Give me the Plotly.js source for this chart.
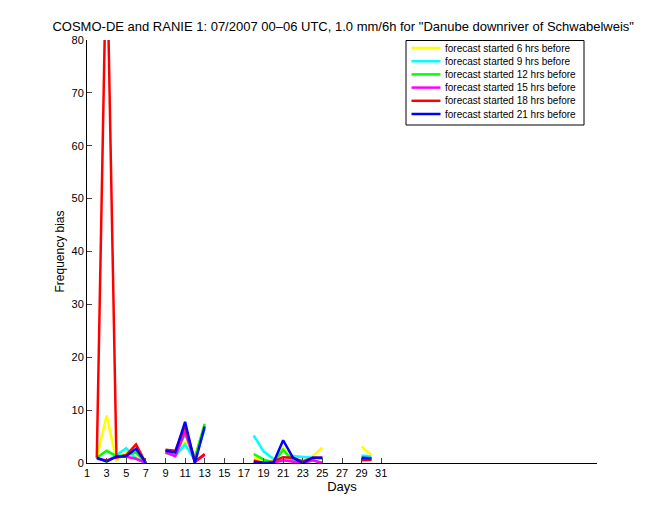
<!DOCTYPE html>
<html>
<head>
<meta charset="utf-8">
<script src="https://cdn.plot.ly/plotly-3.0.1.min.js"></script>
<style>html,body{margin:0;padding:0;background:#fff;}#chart{width:660px;height:520px;}</style>
</head>
<body>
<div id="chart"></div>
<script>
var days = [1,2,3,4,5,6,7,8,9,10,11,12,13,14,15,16,17,18,19,20,21,22,23,24,25,26,27,28,29,30,31];
var xTicks = [1,3,5,7,9,11,13,15,17,19,21,23,25,27,29,31];
var yTicks = [0,10,20,30,40,50,60,70,80];
var seriesNames = ["forecast started 6 hrs before","forecast started 9 hrs before","forecast started 12 hrs before","forecast started 15 hrs before","forecast started 18 hrs before","forecast started 21 hrs before"];
var seriesColors = ["#ffff00","#00ffff","#00ff00","#ff00ff","#ff0000","#0000ff"];
var fc6h  = [null,1,9,0.5,2,1,0,null,1.8,1.5,4,1,7.2,null,null,null,null,1,0.5,0.3,2.9,0.5,0.3,1.3,2.9,null,null,null,3.1,1.5,null];
var fc9h  = [null,1,0.2,1.5,2.8,0.8,0,null,2,1.3,3.5,0.5,6.5,null,null,null,null,5.2,2.2,0.8,0.3,1.3,1.2,1,0.8,null,null,null,1.4,1.2,null];
var fc12h = [null,1,2.3,1.3,1.5,2,0,null,2,1.5,5.5,1,7.4,null,null,null,null,1.7,0.7,0,2.5,0.3,0,0.5,0,null,null,null,1.0,0.8,null];
var fc15h = [null,0.8,0.5,1.2,1.2,0.8,0,null,2,1.3,6,0.2,1.5,null,null,null,null,0,0,0,0.5,0.3,0,0.5,0,null,null,null,0.6,0.7,null];
var fc18h = [null,1,100,1,1.5,3.5,0,null,2.5,2.3,7,0.3,1.7,null,null,null,null,0.5,0,0.3,1.1,1,0.3,1,1,null,null,null,0.5,0.6,null];
var fc21h = [null,1,0.3,1.2,1.3,2.7,0,null,2.3,2,7.8,0,6.9,null,null,null,null,0.2,0,0,4.3,1,0,1,1,null,null,null,1.0,0.9,null];
var allSeries = [fc6h, fc9h, fc12h, fc15h, fc18h, fc21h];

var traces = allSeries.map(function(vals, i){
  return {x: days, y: vals, type: 'scatter', mode: 'lines', name: seriesNames[i],
          line: {color: seriesColors[i], width: 2.5}, connectgaps: false, showlegend: false};
});

// legend drawn as a boxed key in paper coordinates (plot area: 87..597 x, 40..463 y)
var plotL = 87, plotW = 510, plotB = 463, plotH = 423;
function px(x){ return (x - plotL) / plotW; }
function py(y){ return (plotB - y) / plotH; }
var shapes = [{type: 'rect', xref: 'paper', yref: 'paper', x0: px(406), x1: px(584), y0: py(125), y1: py(40.5),
               line: {color: '#000', width: 1}, fillcolor: '#fff', layer: 'above'}];
var annotations = [];
seriesNames.forEach(function(name, i){
  var rowY = 48 + i * 13.2;
  shapes.push({type: 'line', xref: 'paper', yref: 'paper', x0: px(411.5), x1: px(440.5), y0: py(rowY), y1: py(rowY),
               line: {color: seriesColors[i], width: 2.5}, layer: 'above'});
  annotations.push({xref: 'paper', yref: 'paper', x: px(443), y: py(rowY), xanchor: 'left', yanchor: 'middle',
                    text: name, showarrow: false, font: {size: 10, color: '#000'}});
});

var layout = {
  width: 660, height: 520,
  margin: {l: 87, r: 63, t: 40, b: 57},
  paper_bgcolor: '#fff', plot_bgcolor: '#fff',
  font: {family: 'Liberation Sans, Arial, sans-serif', size: 11, color: '#000'},
  title: {text: 'COSMO-DE and RANIE 1: 07/2007 00\u201306 UTC, 1.0 mm/6h for "Danube downriver of Schwabelweis"',
          font: {size: 13, color: '#000'}, x: 0.52, xanchor: 'center', y: 0.95, yanchor: 'middle'},
  xaxis: {range: [1, 53], tickvals: xTicks, ticktext: xTicks.map(String), ticks: 'inside', ticklen: 5,
          showgrid: false, zeroline: false, showline: true, linecolor: '#000', linewidth: 1, mirror: false,
          tickfont: {size: 11}, title: {text: 'Days', font: {size: 13}, standoff: 3}},
  yaxis: {range: [0, 80], tickvals: yTicks, ticks: 'inside', ticklen: 5,
          showgrid: false, zeroline: false, showline: true, linecolor: '#000', linewidth: 1, mirror: false,
          tickfont: {size: 11}, title: {text: 'Frequency bias', font: {size: 12}, standoff: 4}},
  showlegend: false,
  shapes: shapes,
  annotations: annotations
};
Plotly.newPlot('chart', traces, layout, {displayModeBar: false, staticPlot: true});
</script>
</body>
</html>
